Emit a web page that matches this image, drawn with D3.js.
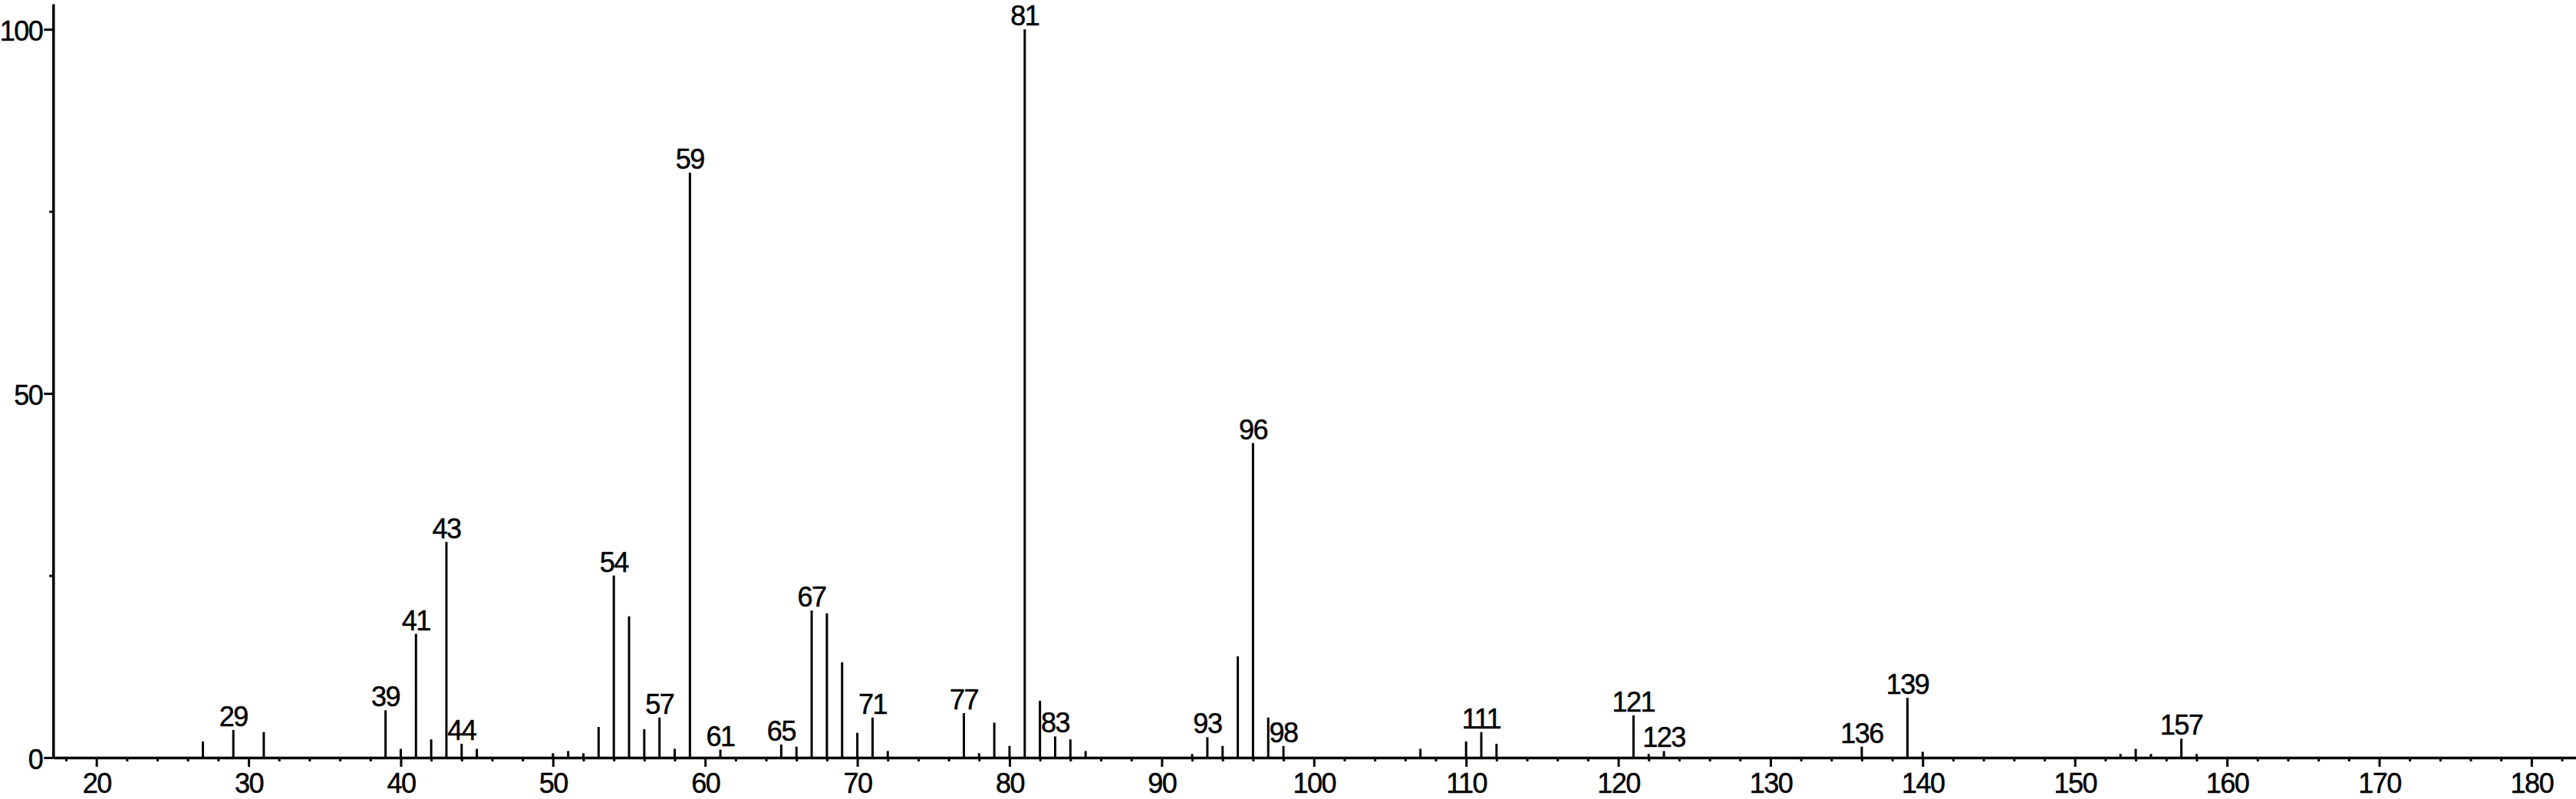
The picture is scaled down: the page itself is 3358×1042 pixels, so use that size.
<!DOCTYPE html>
<html>
<head>
<meta charset="utf-8">
<script src="https://cdn.jsdelivr.net/npm/d3@7"></script>
<style>
  body { margin: 0; background: #fff; }
  svg { display: block; }
  text { font-family: "Liberation Sans", Arial, sans-serif; }
</style>
</head>
<body>
<div id="chart"></div>
<script>
// m/z values and relative intensities (%)
const mz = [27, 29, 31, 39, 40, 41, 42, 43, 44, 45, 50, 51, 52, 53, 54, 55, 56, 57, 58, 59,
  61, 65, 66, 67, 68, 69, 70, 71, 72, 77, 78, 79, 80, 81, 82, 83, 84, 85, 92, 93,
  94, 95, 96, 97, 98, 107, 110, 111, 112, 121, 122, 123, 136, 139, 140, 153, 154, 155, 157, 158];
const intensity = [2.2, 3.8, 3.5, 6.5, 1.2, 17.0, 2.5, 29.6, 1.9, 1.2, 0.6, 0.9, 0.6, 4.2, 25.0, 19.4, 3.9, 5.5, 1.2, 80.3,
  1.1, 1.8, 1.5, 20.2, 19.8, 13.1, 3.4, 5.5, 0.9, 6.1, 0.6, 4.8, 1.6, 100, 7.8, 2.9, 2.5, 0.9, 0.5, 2.8,
  1.6, 13.9, 43.2, 5.5, 1.6, 1.2, 2.2, 3.5, 1.9, 5.8, 0.5, 0.9, 1.5, 8.2, 0.8, 0.5, 1.2, 0.5, 2.6, 0.5];
const labelled = [29, 39, 41, 43, 44, 54, 57, 59, 61, 65, 67, 71, 77, 81, 83, 93, 96, 98, 111, 121, 123, 136, 139, 157];

const xMajor = d3.range(20, 181, 10);
const xMinor = d3.range(18, 183, 2).filter(v => v % 10 !== 0);
const yMajor = [0, 50, 100];
const yMinor = [25, 75];

const width = 3358, height = 1042;
const fontSize = 36;

const peaks = mz.map((m, i) => ({ mz: m, value: intensity[i] }));

const x = d3.scaleLinear()
  .domain([17.16, 182.93])
  .range([69.3, width]);

const y = d3.scaleLinear()
  .domain([0, 103.5])
  .range([988, 5]);

const svg = d3.select("#chart").append("svg")
  .attr("width", width)
  .attr("height", height);

const styleText = sel => sel
  .attr("fill", "#000")
  .attr("stroke", "#000")
  .attr("stroke-width", 0.5)
  .style("font-size", fontSize + "px")
  .style("letter-spacing", "-1.5px");

// x axis: minor ticks, then major ticks with labels
svg.append("g")
  .attr("transform", `translate(0,${y(0)})`)
  .call(d3.axisBottom(x).tickValues(xMinor).tickSize(5).tickSizeOuter(0).tickFormat(""))
  .call(g => g.select(".domain").remove())
  .call(g => g.selectAll("line").attr("stroke-width", 3));

svg.append("g")
  .attr("transform", `translate(0,${y(0)})`)
  .call(d3.axisBottom(x).tickValues(xMajor).tickSize(12).tickSizeOuter(0).tickFormat(d3.format("d")))
  .call(g => g.select(".domain").attr("stroke-width", 3.5))
  .call(g => g.selectAll("line").attr("stroke-width", 3))
  .call(g => g.selectAll("text")
    .attr("y", 45.5)
    .attr("dy", null)
    .call(styleText));

// y axis
svg.append("g")
  .attr("transform", `translate(${x.range()[0]},0)`)
  .call(d3.axisLeft(y).tickValues(yMinor).tickSize(5).tickSizeOuter(0).tickFormat(""))
  .call(g => g.select(".domain").remove())
  .call(g => g.selectAll("line").attr("stroke-width", 3));

svg.append("g")
  .attr("transform", `translate(${x.range()[0]},0)`)
  .call(d3.axisLeft(y).tickValues(yMajor).tickSize(12).tickPadding(2).tickSizeOuter(0).tickFormat(d3.format("d")))
  .call(g => g.select(".domain").attr("stroke-width", 3.5))
  .call(g => g.selectAll("line").attr("stroke-width", 3))
  .call(g => g.selectAll("text")
    .attr("dy", "0.4em")
    .call(styleText));

// peaks
svg.append("g")
  .attr("stroke", "#000")
  .attr("stroke-width", 3)
  .selectAll("line")
  .data(peaks)
  .join("line")
  .attr("x1", d => x(d.mz))
  .attr("x2", d => x(d.mz))
  .attr("y1", y(0))
  .attr("y2", d => y(d.value));

// peak labels
svg.append("g")
  .attr("text-anchor", "middle")
  .selectAll("text")
  .data(peaks.filter(d => labelled.includes(d.mz)))
  .join("text")
  .attr("x", d => x(d.mz))
  .attr("y", d => y(d.value) - 5)
  .call(styleText)
  .text(d => d.mz);
</script>
</body>
</html>
